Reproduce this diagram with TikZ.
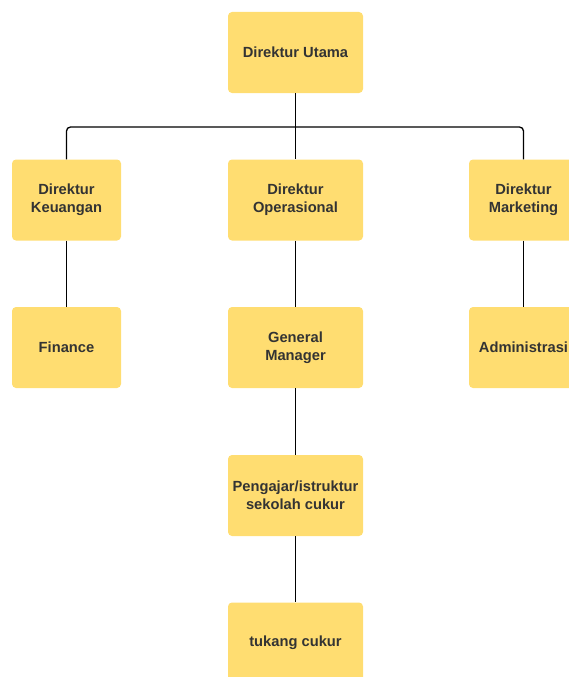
\documentclass[tikz,border=0pt]{standalone}
\usepackage{fontspec}
\setmainfont{Liberation Sans}
\definecolor{boxfill}{HTML}{FFDD71}
\definecolor{boxtext}{HTML}{333333}
\begin{document}
\begin{tikzpicture}[x=1pt,y=-1pt,
  orgbox/.style={fill=boxfill, draw=none, rounded corners=4pt, minimum height=81pt,
    align=center, text=boxtext, font=\fontsize{14.7}{18}\selectfont\bfseries, inner sep=0pt},
  wide/.style={orgbox, minimum width=135pt},
  narrow/.style={orgbox, minimum width=109pt},
  link/.style={draw=black, line width=1.3pt}]
\useasboundingbox (0,0) rectangle (569,677);
\clip (0,0) rectangle (569,677);
\node[wide] (du) at (295.5,52.5) {Direktur Utama};
\node[narrow] (dk) at (66.5,200) {Direktur\\Keuangan};
\node[wide] (do) at (295.5,200) {Direktur\\Operasional};
\node[narrow] (dm) at (523.5,200) {Direktur\\Marketing};
\node[narrow] (fi) at (66.5,347.5) {Finance};
\node[wide] (gm) at (295.5,347.5) {General\\Manager};
\node[narrow] (ad) at (523.5,347.5) {Administrasi};
\node[wide] (pe) at (295.5,495.5) {Pengajar/istruktur\\sekolah cukur};
\node[wide] (tc) at (295.5,643) {tukang cukur};
\coordinate (bus) at (295.5,127);
\draw[link] (du.south) -- (do.north);
\draw[link, rounded corners=4pt] (dk.north) -- (dk.north |- bus) -- (dm.north |- bus) -- (dm.north);
\draw[link] (dk.south) -- (fi.north);
\draw[link] (do.south) -- (gm.north);
\draw[link] (dm.south) -- (ad.north);
\draw[link] (gm.south) -- (pe.north);
\draw[link] (pe.south) -- (tc.north);
\end{tikzpicture}
\end{document}
